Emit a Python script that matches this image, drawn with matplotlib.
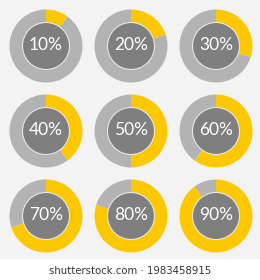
import matplotlib
matplotlib.use("Agg")
import matplotlib.pyplot as plt
from matplotlib.patches import Circle, Rectangle

percents = [10, 20, 30, 40, 50, 60, 70, 80, 90]
labels = [str(p) + "%" for p in percents]

yellow = "#fdc800"
ring_gray = "#b3b3b3"
center_gray = "#7f7f7f"
bg = "#f3f3f3"

W, H = 260, 280
fig = plt.figure(figsize=(W / 100, H / 100), dpi=100, facecolor=bg)
# white strip for the watermark
fig.patches.append(Rectangle((0, 0), 1, 21 / H, transform=fig.transFigure,
                             facecolor="white", edgecolor="none", zorder=-5))

centers = [46, 131, 216]
R = 36.5
for i, p in enumerate(percents):
    cx = centers[i % 3]
    cy = centers[i // 3]
    ax = fig.add_axes([(cx - R) / W, 1 - (cy + R) / H, 2 * R / W, 2 * R / H])
    ax.pie([p, 100 - p], startangle=90, counterclock=False,
           colors=[yellow, ring_gray], radius=1,
           wedgeprops=dict(width=1, edgecolor="none", linewidth=0))
    ax.add_patch(Circle((0, 0), 23.5 / R, facecolor=center_gray,
                        edgecolor="#e6e6e6", linewidth=0.8, zorder=3))
    ax.text(0, 0.02, labels[i], ha="center", va="center", color="white",
            fontsize=12.5, family="Lato", zorder=4)
    ax.set_xlim(-1, 1)
    ax.set_ylim(-1, 1)
    ax.set_aspect("equal")
    ax.axis("off")

fig.text(0.5, 1 - 271 / H, "shutterstock.com \u00b7 1983458915", ha="center",
         va="center", fontsize=7.3, color="#333333", family="DejaVu Sans")

fig.savefig("out.png", dpi=100, facecolor=fig.get_facecolor())
